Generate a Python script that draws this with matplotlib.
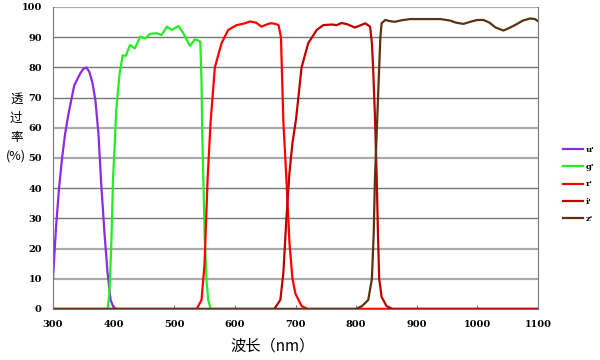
import matplotlib
matplotlib.use("Agg")
import matplotlib.pyplot as plt
import numpy as np

plt.rcParams['font.family'] = ['DejaVu Serif']

u_x = [300, 305, 310, 315, 320, 325, 330, 335, 340, 345, 350, 355, 360, 365, 370, 375, 380, 385, 390, 395, 400, 405, 1100]
u_y = [10, 27, 40, 50, 58, 64, 69, 74, 76, 78, 79.5, 80, 78.5, 75, 69, 58, 40, 25, 12, 3, 0.5, 0, 0]

g_x = [300, 390, 393, 396, 399, 402, 404, 407, 410, 415, 420, 427, 435, 444, 452, 460, 471, 479, 488, 496, 507, 515, 526, 534, 541, 543, 545, 546, 548, 550, 553, 556, 560, 1100]
g_y = [0, 0, 5, 20, 43, 55, 65, 72, 78, 84, 83.8, 87.4, 86.3, 90.2, 89.6, 91.1, 91.3, 90.7, 93.5, 92.4, 93.7, 91.3, 87.1, 89.3, 88.8, 88.5, 75, 60, 43, 25, 10, 3, 0, 0]

r_x = [300, 537, 545, 550, 555, 560, 567, 578, 589, 603, 615, 625, 635, 644, 650, 658, 665, 672, 676, 680, 685, 690, 695, 700, 710, 720, 1100]
r_y = [0, 0, 3, 15, 43, 62, 80, 88, 92.4, 94, 94.5, 95.2, 94.8, 93.5, 94, 94.6, 94.5, 94, 90, 62, 43, 22, 10, 5, 1, 0, 0]

i_x = [300, 665, 675, 680, 685, 690, 695, 701, 710, 721, 735, 746, 760, 768, 776, 785, 798, 808, 815, 823, 826, 828, 831, 834, 836, 838, 842, 850, 860, 1100]
i_y = [0, 0, 3, 12, 30, 45, 55, 63, 80, 88, 92.4, 94, 94.2, 94, 94.7, 94.3, 93.2, 94, 94.6, 93.5, 88, 80, 64, 43, 25, 10, 4, 1, 0, 0]

z_x = [300, 800, 810, 820, 826, 829, 831, 835, 838, 840, 842, 848, 856, 864, 875, 889, 910, 939, 955, 965, 977, 990, 1000, 1010, 1020, 1030, 1043, 1052, 1062, 1075, 1087, 1095, 1100]
z_y = [0, 0, 1, 3, 10, 25, 43, 64, 80, 90, 94.6, 95.7, 95.3, 95.1, 95.6, 96, 96, 96, 95.5, 94.8, 94.4, 95.2, 95.7, 95.7, 94.8, 93.2, 92.2, 93, 94, 95.5, 96.2, 96, 95.3]

labels = ["u'", "g'", "r'", "i'", "z'"]
colors = ['#8B2BE2', '#22EE22', '#FF0000', '#C00000', '#5C3310']

y_ticks = list(range(0, 101, 10))
x_ticks = list(range(300, 1101, 100))

fig = plt.figure(figsize=(6, 3.6), dpi=100)
ax = fig.add_axes([0.0883, 0.1417, 0.8084, 0.8389])

dark = {30, 40, 70, 80, 90}
for yv in y_ticks[1:]:
    if yv in dark:
        ax.axhline(yv, color='#777777', lw=1.0, zorder=0)
    else:
        ax.axhline(yv, color='#AAAAAA', lw=1.6, zorder=0)

series = [(u_x, u_y), (g_x, g_y), (r_x, r_y), (i_x, i_y), (z_x, z_y)]
for (xs, ys), lab, c in zip(series, labels, colors):
    ax.plot(xs, ys, color=c, lw=1.6, label=lab)

ax.set_xlim(300, 1100)
ax.set_ylim(0, 100)
ax.set_xticks(x_ticks)
ax.set_yticks(y_ticks)
ax.tick_params(axis='x', direction='in', length=3, color='#777777', labelsize=7, pad=8)
ax.tick_params(axis='y', length=0, labelsize=7, pad=8)
for lab in ax.get_xticklabels() + ax.get_yticklabels():
    lab.set_fontweight('bold')
for s in ['left', 'right', 'bottom']:
    ax.spines[s].set_color('#777777')
ax.spines['top'].set_visible(False)

fig.text(0.455, 0.04, '波长（nm）', fontsize=11, ha='center', va='center',
         family=['Noto Sans CJK SC', 'DejaVu Sans'])
fig.text(0.027, 0.645, '透\n过\n率\n(%)', fontsize=9, ha='center', va='center',
         linespacing=1.6, family=['Noto Sans CJK SC', 'DejaVu Sans'])

leg = fig.legend(loc='upper left', bbox_to_anchor=(0.925, 0.615), frameon=False,
                 fontsize=6, handlelength=2.5, handletextpad=0.3, labelspacing=1.1)
for t in leg.get_texts():
    t.set_fontweight('bold')

fig.savefig('out.png', dpi=100)
